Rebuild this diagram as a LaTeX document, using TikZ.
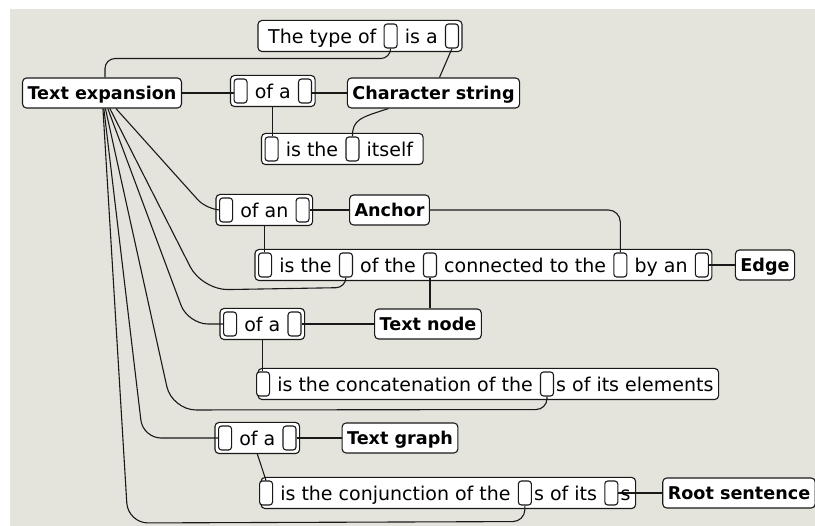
\documentclass[tikz,border=0pt]{standalone}
\usepackage{fontspec}
\setmainfont{DejaVu Sans}
\usetikzlibrary{positioning,fit,calc}
\definecolor{canvasgrey}{RGB}{228,228,220}
\definecolor{inkblack}{RGB}{25,25,25}
\pgfdeclarelayer{bg}
\pgfdeclarelayer{boxes}
\pgfdeclarelayer{edges}
\pgfsetlayers{bg,boxes,edges,main}
\tikzset{
    concept/.style={draw=inkblack, fill=white, rounded corners=4pt, line width=1.1pt,
        minimum height=30pt, inner xsep=5pt, inner ysep=0pt, text height=14pt, text depth=0pt,
        font=\fontsize{17.6}{20}\selectfont\bfseries},
    slot/.style={draw=inkblack, fill=white, rounded corners=3pt, line width=1.1pt,
        minimum width=13pt, minimum height=24pt, inner sep=0pt},
    word/.style={inner xsep=7pt, inner ysep=0pt, text height=15.4pt, text depth=0pt,
        font=\fontsize{19}{22}\selectfont},
    phrase/.style={draw=inkblack, fill=white, rounded corners=4pt, line width=1.1pt,
        inner xsep=3pt, inner ysep=3pt},
    link/.style={draw=inkblack, line width=1.1pt},
}

\begin{document}
\begin{tikzpicture}[x=1pt, y=-1pt]
    % Canvas
    \begin{pgfonlayer}{bg}
        \fill[white] (0,0) rectangle (815,526);
        \fill[canvasgrey] (10,9) rectangle (815,526);
    \end{pgfonlayer}
    \useasboundingbox (0,0) rectangle (815,526);

    % Concepts
    \node[concept] (te) at (102,93) {Text expansion};
    \node[concept] (cs) at (433.5,93) {Character string};
    \node[concept] (an) at (389.5,210) {Anchor};
    \node[concept] (ed) at (765,265) {Edge};
    \node[concept] (tn) at (428,324) {Text node};
    \node[concept] (tg) at (400,438) {Text graph};
    \node[concept] (rs) at (739,493) {Root sentence};

    % The type of [] is a []
    \node[word, anchor=west] (typeofw1) at (261,36) {The type of};
    \node[slot, right=0pt of typeofw1] (typeof1) {};
    \node[word, right=0pt of typeof1] (typeofw2) {is a};
    \node[slot, right=0pt of typeofw2] (typeof2) {};

    % [] of a []
    \node[slot, anchor=west] (ofachar1) at (233.5,91) {};
    \node[word, right=0pt of ofachar1] (ofacharw1) {of a};
    \node[slot, right=0pt of ofacharw1] (ofachar2) {};

    % [] is the [] itself
    \node[slot, anchor=west] (itself1) at (264.5,149) {};
    \node[word, right=0pt of itself1] (itselfw1) {is the};
    \node[slot, right=0pt of itselfw1] (itself2) {};
    \node[word, right=0pt of itself2] (itselfw2) {itself};

    % [] of an []
    \node[slot, anchor=west] (ofan1) at (219,210) {};
    \node[word, right=0pt of ofan1] (ofanw1) {of an};
    \node[slot, right=0pt of ofanw1] (ofan2) {};

    % [] is the [] of the [] connected to the [] by an []
    \node[slot, anchor=west] (connto1) at (258,265) {};
    \node[word, right=0pt of connto1] (conntow1) {is the};
    \node[slot, right=0pt of conntow1] (connto2) {};
    \node[word, right=0pt of connto2] (conntow2) {of the};
    \node[slot, right=0pt of conntow2] (connto3) {};
    \node[word, right=0pt of connto3] (conntow3) {connected to the};
    \node[slot, right=0pt of conntow3] (connto4) {};
    \node[word, right=0pt of connto4] (conntow4) {by an};
    \node[slot, right=0pt of conntow4] (connto5) {};

    % [] of a []
    \node[slot, anchor=west] (ofanode1) at (223,324) {};
    \node[word, right=0pt of ofanode1] (ofanodew1) {of a};
    \node[slot, right=0pt of ofanodew1] (ofanode2) {};

    % [] is the concatenation of the []s of its elements
    \node[slot, anchor=west] (concat1) at (256,384) {};
    \node[word, right=0pt of concat1] (concatw1) {is the concatenation of the};
    \node[slot, right=0pt of concatw1] (concat2) {};
    \node[word, right=-5pt of concat2] (concatw2) {s of its elements};

    % [] of a []
    \node[slot, anchor=west] (ofagraph1) at (218,438) {};
    \node[word, right=0pt of ofagraph1] (ofagraphw1) {of a};
    \node[slot, right=0pt of ofagraphw1] (ofagraph2) {};

    % [] is the conjunction of the []s of its []s
    \node[slot, anchor=west] (conj1) at (259,493) {};
    \node[word, right=0pt of conj1] (conjw1) {is the conjunction of the};
    \node[slot, right=0pt of conjw1] (conj2) {};
    \node[word, right=-5pt of conj2] (conjw2) {s of its};
    \node[slot, right=0pt of conjw2] (conj3) {};
    \node[word, right=-5pt of conj3] (conjw3) {s};

    % Sentence frames
    \begin{pgfonlayer}{boxes}
        \node[phrase, fit=(typeofw1)(typeof2)] (typeof) {};
        \node[phrase, fit=(ofachar1)(ofachar2)] (ofachar) {};
        \node[phrase, fit=(itself1)(itselfw2)] (itself) {};
        \node[phrase, fit=(ofan1)(ofan2)] (ofan) {};
        \node[phrase, fit=(connto1)(connto5)] (connto) {};
        \node[phrase, fit=(ofanode1)(ofanode2)] (ofanode) {};
        \node[phrase, inner xsep=-2pt, fit=(concat1)(concatw2)] (concat) {};
        \node[phrase, fit=(ofagraph1)(ofagraph2)] (ofagraph) {};
        \node[phrase, inner xsep=-2pt, fit=(conj1)(conjw3)] (conj) {};
    \end{pgfonlayer}

    % Links
    \begin{pgfonlayer}{edges}
        \draw[link, rounded corners=10pt] ($(te.north)+(3,0)$) |- ($(typeof1.south)+(0,10)$) -- (typeof1.south);
        \draw[link] ($(cs.north)+(6,0)$) -- (typeof2.south);
        \draw[link] (te.east) -- (te.east -| ofachar1.west);
        \draw[link] (ofachar2.east |- cs.west) -- (cs.west);
        \draw[link] (ofachar.south) -- (ofachar.south |- itself1.north);
        \draw[link] ($(cs.south)+(-45,0)$) .. controls +(-28,9) and +(0,-17) .. (itself2.north);

        \draw[link, rounded corners=14pt] (te) -- (207,210) -- (ofan1.west);
        \draw[link] (te) [rounded corners=26pt] -- (202,290) [rounded corners=10pt] -- ($(connto2.south)+(0,10)$) -- (connto2.south);
        \draw[link, rounded corners=20pt] (te) -- (188,324) -- (ofanode1.west);
        \draw[link] (te) [rounded corners=24pt] -- (172,410) [rounded corners=11pt] -- ($(concat2.south)+(0,13)$) -- (concat2.south);
        \draw[link, rounded corners=18pt] (te) -- (143,438) -- (ofagraph1.west);
        \draw[link] (te) [rounded corners=20pt] -- (128,523) [rounded corners=12pt] -- ($(conj2.south)+(0,16)$) -- (conj2.south);

        \draw[link] (ofan2.east) -- (an.west);
        \draw[link, rounded corners=12pt] (an.east) -| (connto4.north);
        \draw[link] (ofan.south) -- (ofan.south |- connto1.north);
        \draw[link] (connto3.south) -- (connto3.south |- tn.north);
        \draw[link] (connto5.east) -- (ed.west);

        \draw[link] (ofanode2.east) -- (tn.west);
        \draw[link] (ofanode.south) -- (ofanode.south |- concat1.north);
        \draw[link] (ofagraph2.east) -- (tg.west);
        \draw[link] (ofagraph.south) -- (conj1.north);
        \draw[link] (conj3.east) -- (rs.west);
    \end{pgfonlayer}
\end{tikzpicture}
\end{document}
